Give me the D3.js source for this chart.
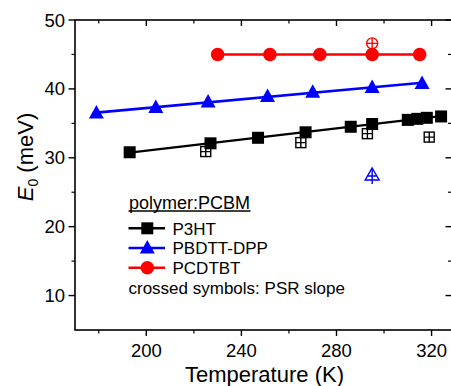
<!DOCTYPE html>
<html>
<head>
<meta charset="utf-8">
<script src="https://cdn.jsdelivr.net/npm/d3@7"></script>
<style>
  body { margin: 0; background: #fff; }
  svg { font-family: "Liberation Sans", Arial, sans-serif; }
</style>
</head>
<body>
<div id="chart"></div>
<script>
// data (temperature in K, E0 in meV)
const p3htT = [193, 227, 247, 267, 286, 295, 310, 314, 318, 324];
const p3htE = [30.8, 32.1, 32.9, 33.7, 34.5, 34.9, 35.5, 35.65, 35.8, 36.0];
const p3htPsrT = [225, 265, 293, 319];
const p3htPsrE = [30.9, 32.2, 33.5, 33.0];

const pbdttT = [179, 204, 226, 251, 270, 295, 316];
const pbdttE = [36.5, 37.3, 38.1, 38.9, 39.5, 40.2, 40.8];
const pbdttPsrT = [295];
const pbdttPsrE = [27.5];

const pcdtbtT = [230, 252, 273, 295, 315];
const pcdtbtE = [45.0, 45.0, 45.0, 45.0, 45.0];
const pcdtbtPsrT = [295];
const pcdtbtPsrE = [46.6];

const xMajor = [200, 240, 280, 320];
const xMinor = [180, 220, 260, 300];
const yMajor = [10, 20, 30, 40, 50];
const yMinor = [15, 25, 35, 45];

const W = 451, H = 386;
const margin = { top: 20, right: 0, bottom: 56, left: 75 };

const svg = d3.select("#chart").append("svg")
    .attr("width", W).attr("height", H);

// right border of the frame sits just outside the picture
const x = d3.scaleLinear().domain([170, 328.8]).range([margin.left, W + 1.5]);
const y = d3.scaleLinear().domain([5, 50]).range([H - margin.bottom, margin.top]);

// least squares line through a series
function fit(xs, ys) {
    const n = xs.length;
    const mx = d3.mean(xs), my = d3.mean(ys);
    let sxy = 0, sxx = 0;
    for (let i = 0; i < n; i++) {
        sxy += (xs[i] - mx) * (ys[i] - my);
        sxx += (xs[i] - mx) * (xs[i] - mx);
    }
    const b = sxx ? sxy / sxx : 0;
    const a = my - b * mx;
    const x0 = d3.min(xs), x1 = d3.max(xs);
    return [[x0, a + b * x0], [x1, a + b * x1]];
}

const series = [
    { name: "P3HT", color: "#000", shape: "square", t: p3htT, e: p3htE, pt: p3htPsrT, pe: p3htPsrE, lw: 2.2 },
    { name: "PBDTT-DPP", color: "#0000ff", shape: "triangle", t: pbdttT, e: pbdttE, pt: pbdttPsrT, pe: pbdttPsrE, lw: 2.6 },
    { name: "PCDTBT", color: "#ff0000", shape: "circle", t: pcdtbtT, e: pcdtbtE, pt: pcdtbtPsrT, pe: pcdtbtPsrE, lw: 2.6 }
];

// filled marker
function marker(g, shape, cx, cy, color) {
    if (shape === "square") {
        g.append("rect").attr("x", cx - 6).attr("y", cy - 6)
            .attr("width", 12).attr("height", 12).attr("fill", color);
    } else if (shape === "triangle") {
        g.append("path")
            .attr("d", `M${cx},${cy - 8}L${cx + 7.5},${cy + 5.5}L${cx - 7.5},${cy + 5.5}Z`)
            .attr("fill", color);
    } else {
        g.append("circle").attr("cx", cx).attr("cy", cy).attr("r", 6.8).attr("fill", color);
    }
}

// open marker with a cross
function crossed(g, shape, cx, cy, color) {
    const s = g.append("g").attr("fill", "none").attr("stroke", color).attr("stroke-width", 1.4);
    if (shape === "square") {
        s.append("rect").attr("x", cx - 5).attr("y", cy - 5).attr("width", 10).attr("height", 10);
        s.append("path").attr("d", `M${cx},${cy - 5}V${cy + 5}M${cx - 5},${cy}H${cx + 5}`);
    } else if (shape === "triangle") {
        s.append("path").attr("d", `M${cx},${cy - 7}L${cx + 7},${cy + 5}L${cx - 7},${cy + 5}Z`);
        s.append("path").attr("d", `M${cx},${cy - 7}V${cy + 9}M${cx - 4.5},${cy + 1}H${cx + 4.5}`);
    } else {
        s.append("circle").attr("cx", cx).attr("cy", cy).attr("r", 5.5);
        s.append("path").attr("d", `M${cx},${cy - 5.5}V${cy + 5.5}M${cx - 5.5},${cy}H${cx + 5.5}`);
    }
}

const plot = svg.append("g");

series.forEach(s => {
    const f = fit(s.t, s.e);
    plot.append("line")
        .attr("x1", x(f[0][0])).attr("y1", y(f[0][1]))
        .attr("x2", x(f[1][0])).attr("y2", y(f[1][1]))
        .attr("stroke", s.color).attr("stroke-width", s.lw);
});

series.forEach(s => {
    s.pt.forEach((t, i) => crossed(plot, s.shape, x(t), y(s.pe[i]), s.color));
    s.t.forEach((t, i) => marker(plot, s.shape, x(t), y(s.e[i]), s.color));
});

// frame and ticks
const x0 = margin.left, x1 = x.range()[1], yb = H - margin.bottom, yt = margin.top;
const frame = svg.append("g").attr("stroke", "#000");
frame.append("rect").attr("x", x0).attr("y", yt).attr("width", x1 - x0).attr("height", yb - yt)
    .attr("fill", "none").attr("stroke-width", 1.6);

// bottom axis outward, top axis inward
xMajor.forEach(v => {
    frame.append("line").attr("x1", x(v)).attr("x2", x(v)).attr("y1", yb).attr("y2", yb + 6).attr("stroke-width", 1.4);
    frame.append("line").attr("x1", x(v)).attr("x2", x(v)).attr("y1", yt).attr("y2", yt + 6).attr("stroke-width", 1.4);
});
xMinor.forEach(v => {
    frame.append("line").attr("x1", x(v)).attr("x2", x(v)).attr("y1", yb).attr("y2", yb + 3.5).attr("stroke-width", 1.2);
    frame.append("line").attr("x1", x(v)).attr("x2", x(v)).attr("y1", yt).attr("y2", yt + 3.5).attr("stroke-width", 1.2);
});
// left axis outward, right axis inward
yMajor.forEach(v => {
    frame.append("line").attr("y1", y(v)).attr("y2", y(v)).attr("x1", x0 - 6.5).attr("x2", x0).attr("stroke-width", 1.4);
    frame.append("line").attr("y1", y(v)).attr("y2", y(v)).attr("x1", x1 - 7).attr("x2", x1).attr("stroke-width", 1.4);
});
yMinor.forEach(v => {
    frame.append("line").attr("y1", y(v)).attr("y2", y(v)).attr("x1", x0 - 3.5).attr("x2", x0).attr("stroke-width", 1.2);
    frame.append("line").attr("y1", y(v)).attr("y2", y(v)).attr("x1", x1 - 4.5).attr("x2", x1).attr("stroke-width", 1.2);
});

const tickFont = "18.5px";
svg.append("g").selectAll("text").data(xMajor).join("text")
    .attr("x", d => x(d)).attr("y", yb + 27)
    .attr("text-anchor", "middle").attr("font-size", tickFont)
    .text(d => d);
svg.append("g").selectAll("text").data(yMajor).join("text")
    .attr("x", x0 - 10).attr("y", d => y(d) + 6.5)
    .attr("text-anchor", "end").attr("font-size", tickFont)
    .text(d => d);

// axis titles
svg.append("text")
    .attr("x", (x0 + 450) / 2 + 2).attr("y", 382)
    .attr("text-anchor", "middle").attr("font-size", "22px")
    .text("Temperature (K)");

const yl = svg.append("text")
    .attr("transform", "translate(33,157) rotate(-90)")
    .attr("text-anchor", "middle").attr("font-size", "22px");
yl.append("tspan").attr("font-style", "italic").text("E");
yl.append("tspan").attr("font-size", "14px").attr("dy", 5).text("0");
yl.append("tspan").attr("dy", -5).text(" (meV)");

// legend
const lg = svg.append("g").attr("font-size", "17px");
lg.append("text").attr("x", 129).attr("y", 208.5).attr("font-size", "18px").text("polymer:PCBM");
lg.append("line").attr("x1", 128.5).attr("x2", 250.5).attr("y1", 211).attr("y2", 211)
    .attr("stroke", "#000").attr("stroke-width", 1.3);
series.forEach((s, i) => {
    const cy = 228.3 + i * 19.7;
    lg.append("line").attr("x1", 128.5).attr("x2", 165).attr("y1", cy).attr("y2", cy)
        .attr("stroke", s.color).attr("stroke-width", 2.4);
    marker(lg, s.shape, 147.3, cy, s.color);
    lg.append("text").attr("x", 172.5).attr("y", cy + 6.2).text(s.name);
});
lg.append("text").attr("x", 128.5).attr("y", 293.5).text("crossed symbols: PSR slope");
</script>
</body>
</html>
